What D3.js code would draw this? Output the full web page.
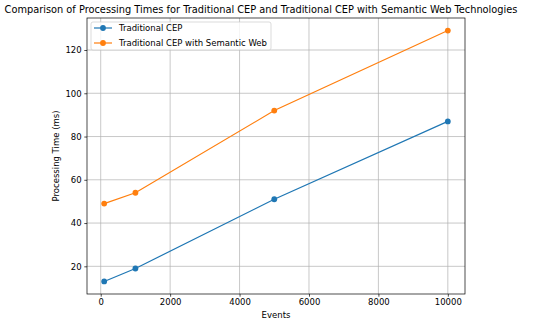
<!DOCTYPE html>
<html>
<head>
<meta charset="utf-8">
<script src="https://cdn.jsdelivr.net/npm/d3@7"></script>
<style>
  body { margin: 0; background: #fff; }
  text { font-family: "DejaVu Sans", sans-serif; fill: #000; }
</style>
</head>
<body>
<svg id="chart" width="550" height="323"></svg>
<script>
// chart data
const events = [100, 1000, 5000, 10000];
const traditional = [13, 19, 51, 87];
const semantic = [49, 54, 92, 129];
const seriesNames = ["Traditional CEP", "Traditional CEP with Semantic Web"];
const xTicks = [0, 2000, 4000, 6000, 8000, 10000];
const yTicks = [20, 40, 60, 80, 100, 120];

const width = 550, height = 323;
const margin = { top: 18, right: 85, bottom: 29, left: 87 };
const colors = ["#1f77b4", "#ff7f0e"];
const fs = 8.5;

const svg = d3.select("#chart");

// matplotlib style 5% margins
const xPad = (d3.max(events) - d3.min(events)) * 0.05;
const allY = traditional.concat(semantic);
const yPad = (d3.max(allY) - d3.min(allY)) * 0.05;

const x = d3.scaleLinear()
    .domain([d3.min(events) - xPad, d3.max(events) + xPad])
    .range([margin.left, width - margin.right]);
const y = d3.scaleLinear()
    .domain([d3.min(allY) - yPad, d3.max(allY) + yPad])
    .range([height - margin.bottom, margin.top]);

// grid
const grid = svg.append("g").attr("stroke", "#b0b0b0").attr("stroke-width", 0.7);
grid.selectAll("line.gx")
  .data(xTicks)
  .join("line")
    .attr("x1", d => x(d)).attr("x2", d => x(d))
    .attr("y1", margin.top).attr("y2", height - margin.bottom);
grid.selectAll("line.gy")
  .data(yTicks)
  .join("line")
    .attr("class", "gy")
    .attr("y1", d => y(d)).attr("y2", d => y(d))
    .attr("x1", margin.left).attr("x2", width - margin.right);

// axes
const xAxis = svg.append("g")
    .attr("transform", `translate(0,${height - margin.bottom})`)
    .call(d3.axisBottom(x).tickValues(xTicks).tickFormat(d3.format("d")).tickSizeOuter(0).tickSize(2.7).tickPadding(2.7));
const yAxis = svg.append("g")
    .attr("transform", `translate(${margin.left},0)`)
    .call(d3.axisLeft(y).tickValues(yTicks).tickSizeOuter(0).tickSize(2.7).tickPadding(2.7));

[xAxis, yAxis].forEach(a => {
  a.select(".domain").remove();
  a.selectAll("line").attr("stroke", "#000").attr("stroke-width", 0.7);
  a.selectAll("text").attr("font-size", fs).attr("font-family", "DejaVu Sans");
});

// frame
svg.append("rect")
    .attr("x", margin.left).attr("y", margin.top)
    .attr("width", width - margin.left - margin.right)
    .attr("height", height - margin.top - margin.bottom)
    .attr("fill", "none").attr("stroke", "#000").attr("stroke-width", 0.7);

// lines
const line = d3.line().x(d => x(d[0])).y(d => y(d[1]));
[traditional, semantic].forEach((vals, i) => {
  const pts = events.map((e, j) => [e, vals[j]]);
  svg.append("path")
      .datum(pts)
      .attr("fill", "none")
      .attr("stroke", colors[i])
      .attr("stroke-width", 1.2)
      .attr("d", line);
  svg.append("g").selectAll("circle")
    .data(pts)
    .join("circle")
      .attr("cx", d => x(d[0])).attr("cy", d => y(d[1]))
      .attr("r", 2.9)
      .attr("fill", colors[i]);
});

// labels
svg.append("text")
    .attr("x", 261).attr("y", 13)
    .attr("text-anchor", "middle")
    .attr("font-size", 9.8)
    .text("Comparison of Processing Times for Traditional CEP and Traditional CEP with Semantic Web Technologies");
svg.append("text")
    .attr("x", (margin.left + width - margin.right) / 2).attr("y", 318)
    .attr("text-anchor", "middle")
    .attr("font-size", fs)
    .text("Events");
svg.append("text")
    .attr("transform", `translate(59,${(margin.top + height - margin.bottom) / 2}) rotate(-90)`)
    .attr("text-anchor", "middle")
    .attr("font-size", fs)
    .text("Processing Time (ms)");

// legend
const lg = svg.append("g").attr("transform", "translate(91,22)");
lg.append("rect")
    .attr("width", 180).attr("height", 28)
    .attr("rx", 2)
    .attr("fill", "#fff").attr("fill-opacity", 0.8)
    .attr("stroke", "#cccccc").attr("stroke-width", 0.7);
seriesNames.forEach((name, i) => {
  const row = lg.append("g").attr("transform", `translate(0,${6 + i * 15})`);
  row.append("line").attr("x1", 3).attr("x2", 21).attr("y1", 0).attr("y2", 0)
      .attr("stroke", colors[i]).attr("stroke-width", 1.2);
  row.append("circle").attr("cx", 12).attr("cy", 0).attr("r", 2.9).attr("fill", colors[i]);
  row.append("text").attr("x", 28).attr("y", 0).attr("dy", "0.35em")
      .attr("font-size", fs).text(name);
});
</script>
</body>
</html>
